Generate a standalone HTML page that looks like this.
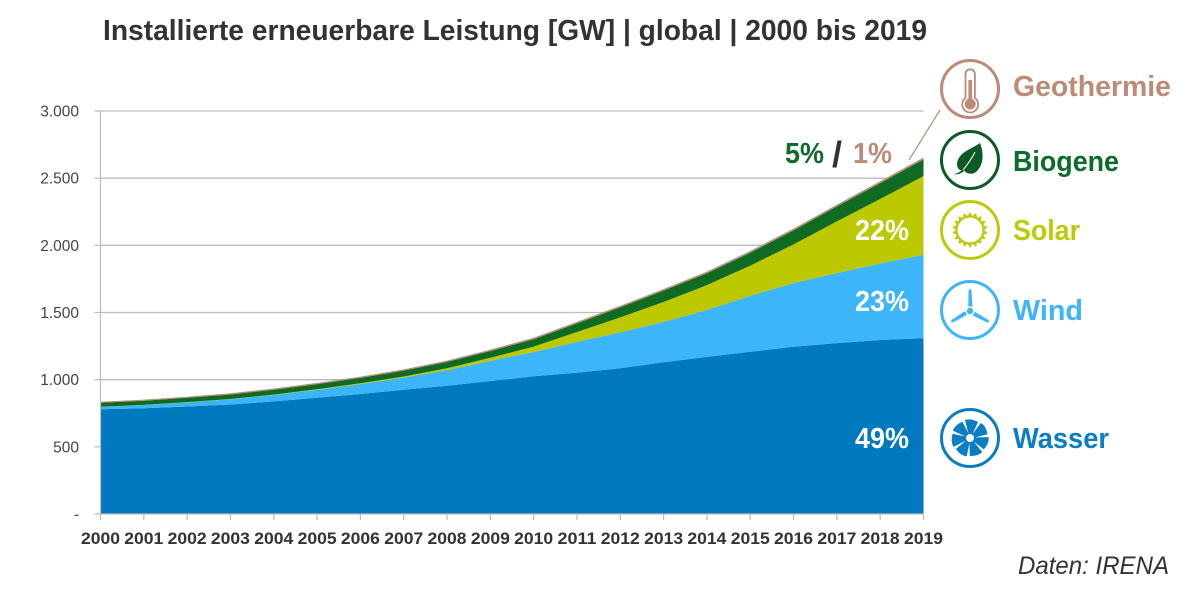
<!DOCTYPE html>
<html lang="de">
<head>
<meta charset="utf-8">
<title>Installierte erneuerbare Leistung</title>
<style>
html,body{margin:0;padding:0;background:#fff;width:1200px;height:599px;overflow:hidden}
svg{display:block}
text{font-family:"Liberation Sans",sans-serif}
</style>
</head>
<body>
<svg id="c" width="1200" height="599" viewBox="0 0 1200 599" xmlns="http://www.w3.org/2000/svg">
  <rect width="1200" height="599" fill="#fff"/>
  <text x="103" y="40" font-size="28.500" font-weight="700" fill="#333" textLength="824" lengthAdjust="spacingAndGlyphs">Installierte erneuerbare Leistung [GW] | global | 2000 bis 2019</text>
  <g id="grid"></g>
  <g id="areas"></g>
  <g id="axes"></g>

  <line x1="909" y1="160" x2="940" y2="110" stroke="#bc8b78" stroke-width="1.200"/>

  <text x="785" y="163" font-size="29" font-weight="700" fill="#0f6b2c" textLength="39" lengthAdjust="spacingAndGlyphs">5%</text>
  <text x="832" y="167" font-size="36" font-weight="700" fill="#333">/</text>
  <text x="853" y="163" font-size="29" font-weight="700" fill="#bc8b78" textLength="39" lengthAdjust="spacingAndGlyphs">1%</text>
  <text x="855" y="240" font-size="29" font-weight="700" fill="#fff" textLength="54" lengthAdjust="spacingAndGlyphs">22%</text>
  <text x="855" y="311" font-size="29" font-weight="700" fill="#fff" textLength="54" lengthAdjust="spacingAndGlyphs">23%</text>
  <text x="855" y="448" font-size="29" font-weight="700" fill="#fff" textLength="54" lengthAdjust="spacingAndGlyphs">49%</text>

  <g>
    <circle cx="970" cy="89" r="28.500" fill="none" stroke="#bc8b78" stroke-width="3"/>
    <g>
      <path d="M965.500 98V74a4.700 4.700 0 0 1 9.400 0V98a8 8 0 1 1 -9.400 0Z" fill="none" stroke="#bc8b78" stroke-width="1.800"/>
      <circle cx="970.200" cy="104" r="5.500" fill="#bc8b78"/>
      <rect x="968.400" y="80" width="3.600" height="22" fill="#bc8b78"/>
    </g>
    <text x="1013" y="96" font-size="29" font-weight="700" fill="#bc8b78" textLength="158" lengthAdjust="spacingAndGlyphs">Geothermie</text>
  </g>

  <g>
    <circle cx="970" cy="160" r="28.500" fill="none" stroke="#0d5a26" stroke-width="3"/>
    <g>
      <path d="M980 143C972 149 958 152 957 164C957 169 960 171 964 170C966 174 972 175 976 172C984 165 984 153 980 143Z" fill="#0d5a26"/>
      <path d="M953 174C957 174 960 172 963 169L964.500 170.500C961 174 957 175 953 174Z" fill="#0d5a26"/>
      <path d="M963 170C968 164 972 158 975 152" fill="none" stroke="#fff" stroke-width="1"/>
    </g>
    <text x="1013" y="171" font-size="29" font-weight="700" fill="#0f6b2c" textLength="106" lengthAdjust="spacingAndGlyphs">Biogene</text>
  </g>

  <g>
    <circle cx="970" cy="230" r="28.500" fill="none" stroke="#bccb08" stroke-width="3"/>
    <g id="sun">
      <circle cx="970" cy="230" r="13.500" fill="none" stroke="#bccb08" stroke-width="2.200"/>
    </g>
    <text x="1013" y="240" font-size="29" font-weight="700" fill="#bccb08" textLength="67" lengthAdjust="spacingAndGlyphs">Solar</text>
  </g>

  <g>
    <circle cx="970" cy="310" r="28.500" fill="none" stroke="#3db5fb" stroke-width="3"/>
    <g fill="#3db5fb">
      <circle cx="970" cy="311" r="3.200"/>
      <path d="M968.300 306.500L968.500 291Q970 287 971.500 291L972.500 306.500Z"/>
      <path d="M968.300 306.500L968.500 291Q970 287 971.500 291L972.500 306.500Z" transform="rotate(120 970 311)"/>
      <path d="M968.300 306.500L968.500 291Q970 287 971.500 291L972.500 306.500Z" transform="rotate(240 970 311)"/>
    </g>
    <text x="1013" y="320" font-size="29" font-weight="700" fill="#3db5fb" textLength="70" lengthAdjust="spacingAndGlyphs">Wind</text>
  </g>

  <g>
    <circle cx="970" cy="438" r="28.500" fill="none" stroke="#0b7dc2" stroke-width="3"/>
    <g id="turbine"></g>
    <text x="1013" y="448" font-size="29" font-weight="700" fill="#0b7dc2" textLength="96" lengthAdjust="spacingAndGlyphs">Wasser</text>
  </g>

  <text x="1169" y="574" text-anchor="end" font-size="25" font-style="italic" fill="#333" textLength="151" lengthAdjust="spacingAndGlyphs">Daten: IRENA</text>
</svg>

<script>
const years = ["2000","2001","2002","2003","2004","2005","2006","2007","2008","2009","2010","2011","2012","2013","2014","2015","2016","2017","2018","2019"];
const wasser = [780,787,800,815,838,865,893,925,955,990,1025,1052,1085,1130,1170,1208,1245,1272,1295,1308];
const wind = [17,24,31,39,48,59,74,91,115,150,181,229,267,300,349,416,474,521,570,622];
const solar = [1,1,2,2,3,5,6,8,15,23,40,74,112,148,185,225,288,385,480,586];
const biogene = [30,31,32,34,36,38,40,43,47,50,55,64,75,85,88,96,104,112,118,124];
const geothermie = [8,8,8,9,9,9,10,10,10,11,11,11,11,12,12,13,13,13,14,14];
const yTickValues = [0,500,1000,1500,2000,2500,3000];
const yTickLabels = ["-","500","1.000","1.500","2.000","2.500","3.000"];

const NS = "http://www.w3.org/2000/svg";
const plotLeft = 100.5, plotRight = 923.5, plotTop = 111, plotBottom = 514, yMax = 3000;
function xPos(i){ return plotLeft + (plotRight - plotLeft) * i / (years.length - 1); }
function yPos(v){ return plotBottom - (plotBottom - plotTop) * v / yMax; }
function make(tag, attrs, parent){
  const el = document.createElementNS(NS, tag);
  for (const k in attrs) el.setAttribute(k, attrs[k]);
  parent.appendChild(el);
  return el;
}

const grid = document.getElementById("grid");
const axes = document.getElementById("axes");
const areas = document.getElementById("areas");

yTickValues.forEach(function(v, i){
  if (v > 0) {
    const g = make("line", {x1: plotLeft, x2: plotRight, y1: yPos(v), y2: yPos(v), stroke: "#bdbbbb", "stroke-width": 1.3}, grid);
    
    
  }
  const t = make("text", {x: 79, y: yPos(v) + 5.5, "text-anchor": "end", "font-size": 15.5, fill: "#444"}, axes);
  
  
  t.textContent = yTickLabels[i];
  const m = make("line", {x1: plotLeft - 6, x2: plotLeft, y1: yPos(v), y2: yPos(v), stroke: "#bdbbbb", "stroke-width": 1.2}, axes);
  
  
});

const seriesList = [
  {name: "wasser", values: wasser, color: "#0079bf"},
  {name: "wind", values: wind, color: "#3db5fb"},
  {name: "solar", values: solar, color: "#bcc800"},
  {name: "biogene", values: biogene, color: "#0f6b22"},
  {name: "geothermie", values: geothermie, color: "#bc8b78"}
];
let base = years.map(function(){ return 0; });
seriesList.forEach(function(s){
  const top = base.map(function(b, i){ return b + s.values[i]; });
  let d = "";
  top.forEach(function(v, i){ d += (i ? "L" : "M") + xPos(i).toFixed(2) + " " + yPos(v).toFixed(2); });
  for (let i = years.length - 1; i >= 0; i--) d += "L" + xPos(i).toFixed(2) + " " + yPos(base[i]).toFixed(2);
  d += "Z";
  const p = make("path", {d: d, fill: s.color}, areas);
  
  
  base = top;
});

const axisLine = make("line", {x1: plotLeft, x2: plotRight, y1: plotBottom, y2: plotBottom, stroke: "#bdbbbb", "stroke-width": 1.2}, axes);


const yAxisLine = make("line", {x1: plotLeft, x2: plotLeft, y1: plotTop, y2: plotBottom, stroke: "#bdbbbb", "stroke-width": 1.2}, axes);



years.forEach(function(y, i){
  const m = make("line", {x1: xPos(i), x2: xPos(i), y1: plotBottom, y2: plotBottom + 6, stroke: "#bdbbbb", "stroke-width": 1.2}, axes);
  
  
  const t = make("text", {x: xPos(i) - 19.5, y: 544, "font-size": 17, "font-weight": 700, fill: "#333", textLength: 39, lengthAdjust: "spacingAndGlyphs"}, axes);
  
  
  t.textContent = y;
});

const sun = document.getElementById("sun");
for (let a = 0; a < 18; a++) {
  const ray = make("path", {d: "M967.800 215.500L970 212L972.200 215.500Z", fill: "#bccb08", transform: "rotate(" + (a * 20) + " 970 230)"}, sun);
  
  
}

const turbine = document.getElementById("turbine");
for (let a = 0; a < 7; a++) {
  const blade = make("path", {d: "M968 432L965 420Q971 418 978 422L973 433Z", fill: "#0b7dc2", transform: "rotate(" + (a * 360 / 7) + " 970 438)"}, turbine);
  
  
}
const hubRing = make("circle", {cx: 970, cy: 438, r: 6, fill: "#0b7dc2"}, turbine);


const hub = make("circle", {cx: 970, cy: 438, r: 4, fill: "#fff"}, turbine);


</script>
</body>
</html>
